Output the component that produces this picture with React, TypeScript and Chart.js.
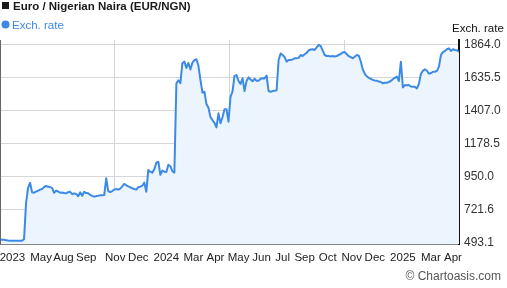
import React, { useEffect, useRef } from "react";
import { Chart, registerables } from "chart.js";

Chart.register(...registerables);

const TITLE = "Euro / Nigerian Naira (EUR/NGN)";
const SERIES_NAME = "Exch. rate";
const AXIS_TITLE = "Exch. rate";
const CREDIT = "\u00A9 Chartoasis.com";

const X_LABELS = [
  "2023", "May", "Aug", "Sep", "Nov", "Dec", "2024", "Mar", "Apr", "May",
  "Jun", "Jul", "Sep", "Oct", "Nov", "Dec", "2025", "Mar", "Apr",
];
// position of each label along the sample index (time) axis
const X_LABEL_AT = [
  6.2, 20.5, 31.7, 43, 57.5, 69, 83, 96.5, 107.5, 119,
  130.5, 141, 152, 163.5, 175.5, 187, 201, 215, 226,
];

const Y_TICKS = [493.1, 721.6, 950.0, 1178.5, 1407.0, 1635.5, 1864.0];

// EUR/NGN, evenly spaced samples (roughly every 3 days), Apr 2023 - Apr 2025
const RATES_2023A = [
  513, 511, 510, 508, 505, 504, 503, 504, 503, 503, 504, 504, 515, 765, 870,
  905, 840, 836, 845, 850, 858, 862, 875, 883, 878, 875, 870, 836, 850, 845,
  836, 838, 834, 832, 840, 843, 826, 832, 828, 812, 839, 815, 843, 834, 832,
  822, 815, 809, 813, 815, 818, 818, 820, 936, 848, 840, 848, 858, 862, 858,
];
const RATES_2023B = [
  865, 880, 897, 888, 880, 874, 867, 862, 858, 875, 878, 885, 906, 843, 994,
  982, 975, 1000, 1044, 1051, 960, 990, 982, 980, 1030, 1020, 985, 975, 1594, 1615,
  1595, 1733, 1744, 1700, 1735, 1690, 1737, 1755, 1760, 1715, 1617, 1530, 1536, 1450, 1425,
  1360, 1340, 1320, 1289, 1386, 1317, 1359, 1414, 1414, 1328, 1500, 1536, 1645, 1651, 1610,
];
const RATES_2024 = [
  1590, 1629, 1540, 1610, 1635, 1620, 1608, 1625, 1612, 1612, 1625, 1629, 1628, 1648, 1540,
  1536, 1540, 1543, 1545, 1755, 1800, 1790, 1775, 1744, 1755, 1755, 1760, 1767, 1767, 1770,
  1790, 1783, 1795, 1805, 1822, 1828, 1830, 1825, 1842, 1860, 1852, 1820, 1790, 1783, 1783,
  1780, 1783, 1780, 1783, 1790, 1797, 1808, 1810, 1795, 1782, 1775, 1767, 1778, 1790, 1785,
];
const RATES_2025 = [
  1745, 1690, 1660, 1642, 1632, 1625, 1617, 1614, 1612, 1606, 1603, 1594, 1598, 1597, 1603,
  1610, 1622, 1632, 1640, 1610, 1744, 1565, 1582, 1580, 1582, 1572, 1570, 1570, 1559, 1590,
  1660, 1680, 1691, 1681, 1660, 1665, 1674, 1674, 1680, 1709, 1790, 1810, 1818, 1830, 1836,
  1818, 1830, 1825, 1822, 1813,
];

const RATES = [...RATES_2023A, ...RATES_2023B, ...RATES_2024, ...RATES_2025];

const FONT = "'Liberation Sans', Arial, sans-serif";
const BLUE = "#3d8ae4";

export default function App() {
  const ref = useRef<HTMLCanvasElement>(null);

  useEffect(() => {
    document.body.style.margin = "0";
    const canvas = ref.current;
    if (!canvas) return;
    const n = RATES.length - 1;

    const decor = {
      id: "decor",
      beforeDraw(chart: any) {
        const ctx = chart.ctx;
        ctx.save();
        ctx.fillStyle = "#ffffff";
        ctx.fillRect(0, 0, chart.width, chart.height);
        ctx.restore();
      },
      afterDraw(chart: any) {
        const ctx = chart.ctx;
        const a = chart.chartArea;
        ctx.save();
        // title
        ctx.fillStyle = "#1a1a1a";
        ctx.fillRect(2, 2, 7, 7);
        ctx.font = `bold 11.5px ${FONT}`;
        ctx.textBaseline = "alphabetic";
        ctx.textAlign = "left";
        ctx.fillText(TITLE, 13, 10);
        // legend
        ctx.fillStyle = BLUE;
        ctx.beginPath();
        ctx.arc(5.5, 24.5, 4, 0, Math.PI * 2);
        ctx.fill();
        ctx.font = `11.5px ${FONT}`;
        ctx.fillText(SERIES_NAME, 12, 29);
        // axis title
        ctx.fillStyle = "#111";
        ctx.font = `11.5px ${FONT}`;
        ctx.fillText(AXIS_TITLE, 452, 32);
        // credit
        ctx.fillStyle = "#555";
        ctx.font = `12px ${FONT}`;
        ctx.textAlign = "right";
        ctx.fillText(CREDIT, 501, 280);
        // left border
        ctx.strokeStyle = "#666";
        ctx.lineWidth = 1;
        ctx.beginPath();
        ctx.moveTo(a.left + 0.5, a.top);
        ctx.lineTo(a.left + 0.5, a.bottom);
        ctx.stroke();
        ctx.restore();
      },
    };

    const chart = new Chart(canvas, {
      type: "line",
      data: {
        datasets: [
          {
            label: SERIES_NAME,
            data: RATES.map((v, i) => ({ x: i, y: v })),
            borderColor: BLUE,
            backgroundColor: "#ecf5fe",
            borderWidth: 2,
            pointRadius: 0,
            tension: 0,
            fill: "start",
            borderJoinStyle: "round",
            xAxisID: "x",
            yAxisID: "y",
          },
        ],
      },
      options: {
        animation: false,
        responsive: false,
        events: [],
        layout: { padding: { left: 0, top: 40, right: 0, bottom: 0 } },
        plugins: { legend: { display: false }, tooltip: { enabled: false }, title: { display: false } },
        scales: {
          x: {
            type: "linear",
            position: "bottom",
            min: 0,
            max: n,
            afterBuildTicks: (axis: any) => {
              axis.ticks = [0.25, 0.5, 0.75].map((f) => ({ value: n * f }));
            },
            afterFit: (axis: any) => {
              axis.height = 0;
              axis.paddingLeft = 0;
              axis.paddingRight = 0;
            },
            ticks: { display: false },
            grid: { color: "#d6d6d6", lineWidth: 1, drawTicks: false },
            border: { display: false },
          },
          x2: {
            type: "linear",
            position: "bottom",
            min: 0,
            max: n,
            afterBuildTicks: (axis: any) => {
              axis.ticks = X_LABEL_AT.map((v) => ({ value: v }));
            },
            afterFit: (axis: any) => {
              axis.height = 44;
              axis.paddingLeft = 0;
              axis.paddingRight = 0;
            },
            ticks: {
              autoSkip: false,
              maxRotation: 0,
              padding: 7,
              color: "#222",
              font: { family: FONT, size: 11.5 },
              callback: (v: any, i: number) => X_LABELS[i] ?? "",
            },
            grid: { display: false, drawTicks: false },
            border: { display: true, color: "#111", width: 1.5 },
          },
          y: {
            type: "linear",
            position: "right",
            min: 481.3,
            max: 1893.8,
            afterBuildTicks: (axis: any) => {
              axis.ticks = Y_TICKS.map((v) => ({ value: v }));
            },
            afterFit: (axis: any) => {
              axis.width = 48;
              axis.paddingTop = 0;
              axis.paddingBottom = 0;
            },
            ticks: {
              padding: 5,
              color: "#333",
              font: { family: FONT, size: 12 },
              callback: (v: any) => Number(v).toFixed(1),
            },
            grid: { color: "#d6d6d6", lineWidth: 1, drawTicks: false },
            border: { display: true, color: "#111", width: 2 },
          },
        },
      },
      plugins: [decor],
    } as any);

    return () => chart.destroy();
  }, []);

  return (
    <div style={{ position: "absolute", left: 0, top: 0, width: 507, height: 288 }}>
      <canvas ref={ref} width={507} height={288} style={{ display: "block", width: 507, height: 288 }} />
    </div>
  );
}
